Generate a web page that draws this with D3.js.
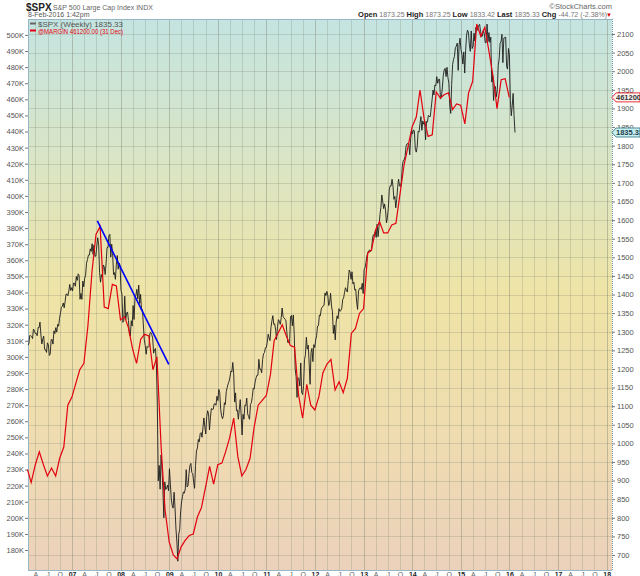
<!DOCTYPE html>
<html>
<head>
<meta charset="utf-8">
<script src="https://d3js.org/d3.v7.min.js"></script>
<style>
  body { margin: 0; background: #fff; }
  svg { display: block; font-family: "Liberation Sans", Arial, sans-serif; }
</style>
</head>
<body>
<div id="chart"></div>
<script>

// weekly closes of $SPX, first week ending 3-Feb-2006
var spxFirstWeek = new Date(2006, 1, 3);
var spxClose = [
  // 2006
  1264.0, 1266.99, 1289.38, 1289.43, 1287.23, 1281.42, 1307.25, 1302.95, 1294.83, 1295.50, 1289.12, 1311.28,
  1310.61, 1325.76, 1291.24, 1267.03, 1280.16, 1288.22, 1252.30, 1251.54, 1244.50, 1270.20, 1265.48, 1236.20,
  1240.29, 1278.55, 1279.36, 1266.74, 1302.30, 1295.09, 1311.01, 1298.92, 1319.66, 1314.78, 1335.85, 1349.59,
  1365.62, 1368.60, 1377.34, 1364.30, 1380.90, 1401.20, 1400.95, 1396.71, 1409.84, 1427.09, 1410.76, 1418.30,
  // 2007
  1409.71, 1430.73, 1430.50, 1422.18, 1448.39, 1438.06, 1455.54, 1451.19, 1387.17, 1402.84, 1386.95, 1436.11,
  1420.86, 1443.76, 1452.85, 1484.35, 1494.07, 1505.62, 1505.85, 1522.75, 1515.73, 1536.34, 1507.67, 1532.91,
  1502.56, 1503.35, 1530.44, 1552.50, 1534.10, 1458.95, 1433.06, 1453.64, 1445.94, 1479.37, 1473.99, 1453.55,
  1484.25, 1525.75, 1526.75, 1557.59, 1561.80, 1500.63, 1535.28, 1509.65, 1453.70, 1458.74, 1440.70, 1481.14,
  1504.66, 1467.95, 1484.46, 1478.49,
  // 2008
  1411.63, 1401.02, 1325.19, 1330.61, 1395.42, 1331.29, 1349.99, 1353.11, 1330.63, 1293.37, 1288.14, 1329.51,
  1315.22, 1370.40, 1332.83, 1390.33, 1397.84, 1413.90, 1388.28, 1425.35, 1375.93, 1400.38, 1360.68, 1360.03,
  1317.93, 1278.38, 1262.90, 1239.49, 1260.68, 1257.76, 1260.31, 1296.32, 1298.20, 1292.20, 1282.83, 1242.31,
  1251.70, 1255.08, 1213.27, 1099.23, 899.22, 940.55, 876.77, 968.75, 930.99, 873.29, 800.03, 896.24,
  876.07, 879.73, 887.88, 872.80,
  // 2009
  931.80, 890.35, 850.12, 831.95, 825.88, 868.60, 826.84, 770.05, 735.09, 683.38, 756.55, 768.54,
  815.94, 842.50, 856.56, 869.60, 866.23, 877.52, 929.23, 882.88, 887.00, 919.14, 940.09, 946.21,
  921.23, 918.90, 896.42, 879.13, 940.38, 979.26, 987.48, 1010.48, 1004.09, 1026.13, 1028.93, 1016.40,
  1042.73, 1068.30, 1044.38, 1025.21, 1071.49, 1087.68, 1079.60, 1036.19, 1069.30, 1093.48, 1091.38, 1091.49,
  1105.98, 1106.41, 1102.47, 1126.48, 1115.10,
  // 2010
  1144.98, 1136.03, 1091.76, 1073.87, 1066.19, 1075.51, 1109.17, 1104.49, 1138.70, 1149.99, 1159.90, 1166.59,
  1178.10, 1194.37, 1192.13, 1217.28, 1186.69, 1110.88, 1135.68, 1087.69, 1089.41, 1064.88, 1091.60, 1117.51,
  1076.76, 1022.58, 1077.96, 1064.88, 1102.66, 1101.60, 1121.64, 1079.25, 1071.69, 1064.59, 1104.51, 1109.55,
  1125.59, 1148.67, 1146.24, 1165.15, 1176.19, 1183.08, 1183.26, 1225.85, 1199.21, 1199.73, 1189.40, 1224.71,
  1240.40, 1243.91, 1256.77, 1257.64,
  // 2011
  1271.50, 1293.24, 1283.35, 1276.34, 1310.87, 1329.15, 1343.01, 1319.88, 1321.15, 1304.28, 1279.20, 1313.80,
  1332.41, 1328.17, 1319.68, 1337.38, 1363.61, 1340.20, 1337.77, 1333.27, 1331.10, 1300.16, 1270.98, 1271.50,
  1268.45, 1339.67, 1343.80, 1316.14, 1345.02, 1292.28, 1199.38, 1178.81, 1123.53, 1176.80, 1173.97, 1154.23,
  1216.01, 1136.43, 1131.42, 1155.46, 1224.58, 1238.25, 1285.09, 1253.23, 1263.85, 1215.65, 1158.67, 1244.28,
  1255.19, 1219.66, 1265.33, 1257.60,
  // 2012
  1277.81, 1289.09, 1315.38, 1316.33, 1344.90, 1342.64, 1361.23, 1365.74, 1369.63, 1370.87, 1404.17, 1397.11,
  1408.47, 1398.08, 1370.26, 1378.53, 1403.36, 1369.10, 1353.39, 1295.22, 1317.82, 1278.04, 1325.66, 1342.84,
  1335.02, 1362.16, 1354.68, 1356.78, 1362.66, 1385.97, 1390.99, 1405.87, 1418.16, 1411.13, 1406.58, 1437.92,
  1465.77, 1460.15, 1440.67, 1460.93, 1428.59, 1433.19, 1411.94, 1414.20, 1379.85, 1359.88, 1409.15, 1416.18,
  1418.07, 1413.58, 1430.15, 1402.43,
  // 2013
  1466.47, 1472.05, 1485.98, 1502.96, 1513.17, 1517.93, 1519.79, 1515.60, 1518.20, 1551.18, 1560.70, 1556.89,
  1569.19, 1553.28, 1588.85, 1555.25, 1582.24, 1614.42, 1633.70, 1667.47, 1649.60, 1630.74, 1643.38, 1626.73,
  1592.43, 1606.28, 1631.89, 1680.19, 1692.09, 1691.65, 1709.67, 1691.42, 1655.83, 1663.50, 1632.97, 1655.17,
  1687.99, 1709.91, 1691.75, 1690.50, 1703.20, 1744.50, 1759.77, 1761.64, 1770.61, 1798.18, 1804.76, 1805.81,
  1805.09, 1775.32, 1818.32, 1841.40,
  // 2014
  1831.37, 1842.37, 1838.70, 1790.29, 1782.59, 1797.02, 1838.63, 1836.25, 1859.45, 1878.04, 1841.13, 1866.52,
  1857.62, 1865.09, 1815.69, 1864.85, 1863.40, 1881.14, 1878.48, 1877.86, 1900.53, 1923.57, 1949.44, 1936.16,
  1962.87, 1960.96, 1985.44, 1967.57, 1978.22, 1978.34, 1925.15, 1931.59, 1955.06, 1988.40, 2003.37, 2007.71,
  1985.54, 2010.40, 1982.85, 1967.90, 1906.13, 1886.76, 1964.58, 2018.05, 2031.92, 2039.82, 2063.50, 2067.56,
  2075.37, 2002.33, 2070.65, 2088.77,
  // 2015
  2058.20, 2044.81, 2019.42, 2051.82, 1994.99, 2055.47, 2096.99, 2110.30, 2104.50, 2071.26, 2053.40, 2108.10,
  2061.02, 2066.96, 2102.06, 2081.18, 2117.69, 2108.29, 2116.10, 2122.73, 2126.06, 2107.39, 2092.83, 2094.11,
  2109.99, 2101.49, 2076.78, 2076.62, 2126.64, 2079.65, 2103.84, 2077.57, 2091.54, 1970.89, 1988.87, 1921.22,
  1961.05, 1958.08, 1931.34, 1951.36, 2014.89, 2033.11, 2075.15, 2079.36, 2099.20, 2023.04, 2089.17, 2090.11,
  2091.69, 2012.37, 2005.55, 2060.99, 2043.94,
  // 2016
  1922.03, 1880.33, 1906.90, 1940.24, 1880.05, 1835.33
];

// monthly margin debt ($ millions), first month Jan-2006, dated at month end
var marginFirstMonth = new Date(2006, 0, 1);
var marginDebt = [
  230000, 222000, 233000, 241000, 233000, 226000, 231000, 226000, 237000, 244000, 270000, 275000,
  284000, 292000, 296000, 319000, 353000, 376000, 381000, 331000, 330000, 345000, 344000, 323000,
  325000, 318000, 305000, 296000, 311000, 314000, 313000, 292000, 300000, 245000, 205000, 185000,
  177000, 174500, 182000, 186000, 189000, 190000, 200500, 206500, 219000, 232000, 221000, 233000,
  234000, 241000, 250000, 262000, 238000, 226000, 230000, 237000, 256000, 270000, 273000, 276000,
  289000, 310000, 315000, 320000, 313000, 307000, 306000, 276000, 262000, 283000, 270000, 267000,
  275600, 290000, 295500, 298400, 279400, 284600, 277800, 286700, 314600, 317700, 327000, 330000,
  364300, 366400, 378800, 384000, 377000, 377000, 382000, 383000, 400600, 419200, 430600, 443000,
  449000, 465800, 448000, 437000, 438000, 464600, 460800, 463000, 464000, 453600, 457100, 456300,
  444700, 464000, 471200, 506800, 499200, 504800, 489900, 474300, 454200, 472200, 472800, 461200
];

// hand drawn trend line over the 2007-2008 highs
var trendDates = [new Date(2007, 6, 10), new Date(2008, 11, 28)];
var trendValues = [1598, 1212];

var leftTicks = [180000, 190000, 200000, 210000, 220000, 230000, 240000, 250000, 260000, 270000, 280000,
  290000, 300000, 310000, 320000, 330000, 340000, 350000, 360000, 370000, 380000, 390000, 400000,
  410000, 420000, 430000, 440000, 450000, 460000, 470000, 480000, 490000, 500000];
var rightTicks = [700, 750, 800, 850, 900, 950, 1000, 1050, 1100, 1150, 1200, 1250, 1300, 1350, 1400,
  1450, 1500, 1550, 1600, 1650, 1700, 1750, 1800, 1850, 1900, 1950, 2000, 2050, 2100];
var monthLetters = {3: "A", 6: "J", 9: "O"};

var W = 640, H = 576;
var plotL = 28, plotR = 612, plotT = 19, plotB = 570;

var spx = spxClose.map(function (v, i) {
  return {date: d3.timeDay.offset(spxFirstWeek, 7 * i), v: v};
});
var margin = marginDebt.map(function (v, i) {
  return {date: d3.timeDay.offset(d3.timeMonth.offset(marginFirstMonth, i + 1), -1), v: v};
});
var trend = trendDates.map(function (d, i) { return {date: d, v: trendValues[i]}; });

var x = d3.scaleTime()
  .domain([new Date(2006, 1, 4), new Date(2018, 1, 10)])
  .range([plotL, plotR]);
var yR = d3.scaleLinear().domain([659.7, 2140.3]).range([plotB, plotT]);
var yL = d3.scaleLinear().domain([167600, 509900]).range([plotB, plotT]);

var svg = d3.select("#chart").append("svg")
  .attr("width", W)
  .attr("height", H);

var grad = svg.append("defs").append("linearGradient")
  .attr("id", "bg")
  .attr("x1", 0).attr("y1", 0).attr("x2", 0).attr("y2", 1);
[[0, "#c4e4e1"], [0.25, "#d9e5c6"], [0.5, "#efe4a6"], [0.75, "#efdcb0"], [1, "#ebd1bb"]]
  .forEach(function (s) {
    grad.append("stop").attr("offset", s[0]).attr("stop-color", s[1]);
  });

svg.append("rect")
  .attr("x", plotL).attr("y", plotT)
  .attr("width", plotR - plotL).attr("height", plotB - plotT)
  .attr("fill", "url(#bg)");

// grid
var quarters = d3.timeMonth.every(3).range(new Date(2006, 3, 1), new Date(2018, 1, 2));
var grid = svg.append("g").attr("shape-rendering", "crispEdges");
grid.selectAll("line.v").data(quarters).enter().append("line")
  .attr("x1", function (d) { return Math.round(x(d)) + 0.5; })
  .attr("x2", function (d) { return Math.round(x(d)) + 0.5; })
  .attr("y1", plotT).attr("y2", plotB)
  .attr("stroke", "#7c8470")
  .attr("stroke-opacity", function (d) { return d.getMonth() === 0 ? 0.42 : 0.26; });
grid.selectAll("line.h").data(rightTicks).enter().append("line")
  .attr("x1", plotL).attr("x2", plotR)
  .attr("y1", function (d) { return Math.round(yR(d)) + 0.5; })
  .attr("y2", function (d) { return Math.round(yR(d)) + 0.5; })
  .attr("stroke", "#7c8470")
  .attr("stroke-opacity", 0.26);

// axes
var axL = svg.append("g")
  .attr("transform", "translate(" + plotL + ",0)")
  .call(d3.axisLeft(yL).tickValues(leftTicks).tickSize(3).tickPadding(1)
    .tickFormat(function (d) { return (d / 1000) + "K"; }));
var axR = svg.append("g")
  .attr("transform", "translate(" + plotR + ",0)")
  .call(d3.axisRight(yR).tickValues(rightTicks).tickSize(3).tickPadding(2)
    .tickFormat(d3.format("d")));
var axB = svg.append("g")
  .attr("transform", "translate(0," + plotB + ")")
  .call(d3.axisBottom(x).tickValues(quarters).tickSize(0)
    .tickFormat(function (d) {
      return d.getMonth() === 0 ? d3.timeFormat("%y")(d) : monthLetters[d.getMonth()];
    }));

[axL, axR, axB].forEach(function (a) {
  a.select(".domain").remove();
  a.selectAll("text")
    .style("font-family", "'Liberation Sans', Arial, sans-serif")
    .style("font-size", "7.5px")
    .attr("fill", "#555");
  a.selectAll(".tick line").attr("stroke", "#777");
});
axB.selectAll("text")
  .attr("y", 6.5)
  .attr("dy", 0)
  .style("font-size", "7px")
  .style("font-weight", function (d) { return d.getMonth() === 0 ? "bold" : "normal"; })
  .attr("fill", function (d) { return d.getMonth() === 0 ? "#222" : "#666"; });

// frame
svg.append("line").attr("x1", plotL + 0.5).attr("x2", plotL + 0.5).attr("y1", plotT).attr("y2", plotB)
  .attr("stroke", "#98b7c6");
svg.append("line").attr("x1", plotL).attr("x2", plotR).attr("y1", plotB + 0.5).attr("y2", plotB + 0.5)
  .attr("stroke", "#98b7c6");
svg.append("line").attr("x1", plotL).attr("x2", plotR).attr("y1", plotT + 0.5).attr("y2", plotT + 0.5)
  .attr("stroke", "#98b7c6");
svg.append("line").attr("x1", plotR + 0.5).attr("x2", plotR + 0.5).attr("y1", plotT).attr("y2", plotB)
  .attr("stroke", "#6e98ad").attr("stroke-dasharray", "1,1");

// series
var lineR = d3.line()
  .x(function (d) { return x(d.date); })
  .y(function (d) { return yR(d.v); });
var lineL = d3.line()
  .x(function (d) { return x(d.date); })
  .y(function (d) { return yL(d.v); });

svg.append("path").datum(spx)
  .attr("d", lineR)
  .attr("fill", "none")
  .attr("stroke", "#1c1c1c")
  .attr("stroke-width", 0.9);
svg.append("path").datum(margin)
  .attr("d", lineL)
  .attr("fill", "none")
  .attr("stroke", "#e3000f")
  .attr("stroke-width", 1.2);
svg.append("path").datum(trend)
  .attr("d", lineR)
  .attr("fill", "none")
  .attr("stroke", "#0000ff")
  .attr("stroke-width", 1.6);

// legend
var legend = svg.append("g");
legend.append("line").attr("x1", 30).attr("x2", 36).attr("y1", 23.5).attr("y2", 23.5)
  .attr("stroke", "#666").attr("stroke-width", 2);
legend.append("text").attr("x", 38).attr("y", 26.5).attr("fill", "#555")
  .style("font-size", "8px")
  .attr("textLength", 85).attr("lengthAdjust", "spacingAndGlyphs")
  .text("$SPX (Weekly) " + d3.format(".2f")(spxClose[spxClose.length - 1]));
legend.append("line").attr("x1", 30).attr("x2", 36).attr("y1", 30.5).attr("y2", 30.5)
  .attr("stroke", "#e3000f").attr("stroke-width", 2);
legend.append("text").attr("x", 38).attr("y", 33.5).attr("fill", "#e3000f")
  .style("font-size", "7px")
  .attr("textLength", 85).attr("lengthAdjust", "spacingAndGlyphs")
  .text("@MARGIN " + d3.format(".2f")(marginDebt[marginDebt.length - 1]) + " (31 Dec)");

// last value markers on the right edge
function marker(yv, label, fill, stroke, color) {
  var g = svg.append("g");
  g.append("path")
    .attr("d", "M" + plotR + "," + yv + "L" + (plotR + 4) + "," + (yv - 4.5) +
      "L" + W + "," + (yv - 4.5) + "L" + W + "," + (yv + 4.5) + "L" + (plotR + 4) + "," + (yv + 4.5) + "Z")
    .attr("fill", fill).attr("stroke", stroke).attr("stroke-width", 0.8);
  g.append("text").attr("x", plotR + 4).attr("y", yv + 3)
    .style("font-size", "7.5px").style("font-weight", "bold")
    .attr("fill", color).text(label);
}
marker(yL(marginDebt[marginDebt.length - 1]), "461200.0", "#fdf3f1", "#e3000f", "#333");
marker(yR(spxClose[spxClose.length - 1]), "1835.33", "#c8f0f1", "#2b6f7c", "#1c3c4c");

// header
var head = svg.append("g");
head.append("text").attr("x", 26).attr("y", 10.5)
  .style("font-size", "10px").style("font-weight", "bold").attr("fill", "#222").text("$SPX");
head.append("text").attr("x", 53).attr("y", 10)
  .style("font-size", "7px").attr("fill", "#666").text("S&P 500 Large Cap Index INDX");
head.append("text").attr("x", 28).attr("y", 17)
  .style("font-size", "7px").attr("fill", "#555").text("8-Feb-2016 1:42pm");
head.append("text").attr("x", plotR).attr("y", 9).attr("text-anchor", "end")
  .style("font-size", "7.5px").attr("fill", "#666").text("\u00a9StockCharts.com");

var quote = head.append("text").attr("x", plotR - 5).attr("y", 17).attr("text-anchor", "end")
  .style("font-size", "7px").attr("fill", "#777");
[["Open ", "1873.25 "], ["High ", "1873.25 "], ["Low ", "1833.42 "], ["Last ", "1835.33 "], ["Chg ", "-44.72 (-2.38%)"]]
  .forEach(function (p) {
    quote.append("tspan").style("font-weight", "bold").style("font-size", "7.5px").attr("fill", "#222").text(p[0]);
    quote.append("tspan").text(p[1]);
  });
head.append("text").attr("x", plotR).attr("y", 17).attr("text-anchor", "end")
  .style("font-size", "6px").attr("fill", "#d00").text("\u25bc");

</script>
</body>
</html>
